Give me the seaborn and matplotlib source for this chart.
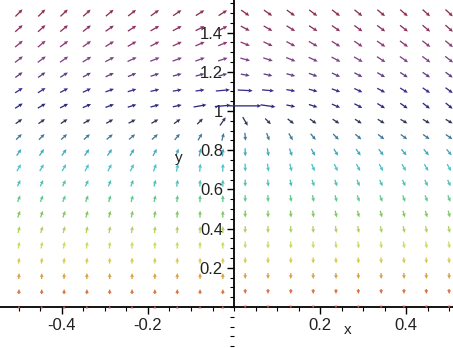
import numpy as np
import matplotlib
matplotlib.use("Agg")
import matplotlib.pyplot as plt
from matplotlib.ticker import MultipleLocator
import seaborn as sns

sns.set_theme(style="white")
plt.rcParams['font.family'] = ['Liberation Sans', 'DejaVu Sans']

# grid of the direction field (20 x 20)
x_grid = [-0.5, -0.447, -0.395, -0.342, -0.289, -0.237, -0.184, -0.132, -0.079, -0.026,
          0.026, 0.079, 0.132, 0.184, 0.237, 0.289, 0.342, 0.395, 0.447, 0.5]
y_grid = [0.0, 0.079, 0.158, 0.237, 0.316, 0.395, 0.474, 0.553, 0.632, 0.711,
          0.789, 0.868, 0.947, 1.026, 1.105, 1.184, 1.263, 1.342, 1.421, 1.5]

# arrow direction (degrees), one row per y value (bottom -> top)
arrow_angles = [
    [90, 90, 90, 90, 90, 90, 90, 90, 90, 90, -90, -90, -90, -90, -90, -90, -90, -90, -90, -90],
    [89, 89, 89, 90, 90, 90, 90, 90, 90, 90, -90, -90, -90, -90, -90, -90, -89, -89, -89, -89],
    [87, 87, 88, 88, 89, 89, 90, 90, 90, 90, -90, -90, -90, -89, -88, -88, -87, -87, -87, -87],
    [84, 84, 85, 86, 87, 88, 89, 90, 90, 90, -90, -90, -89, -88, -87, -86, -85, -84, -84, -84],
    [80, 80, 80, 82, 84, 86, 88, 89, 90, 90, -90, -90, -88, -86, -84, -82, -82, -81, -80, -80],
    [75, 75, 76, 78, 80, 82, 85, 88, 90, 90, -90, -89, -87, -85, -82, -80, -78, -78, -78, -78],
    [72, 72, 72, 74, 76, 78, 82, 86, 89, 90, -90, -88, -85, -82, -78, -76, -75, -75, -75, -75],
    [68, 68, 68, 70, 72, 75, 78, 83, 88, 90, -90, -87, -82, -78, -75, -72, -70, -70, -70, -70],
    [65, 65, 65, 65, 67, 70, 75, 80, 87, 89, -89, -85, -78, -72, -70, -68, -66, -65, -65, -65],
    [60, 60, 60, 62, 63, 65, 70, 78, 85, 88, -88, -82, -75, -68, -65, -63, -62, -60, -60, -60],
    [55, 55, 55, 55, 55, 58, 62, 70, 78, 85, -88, -80, -70, -62, -58, -55, -52, -50, -50, -50],
    [45, 45, 43, 42, 40, 40, 42, 50, 60, 75, -85, -70, -60, -50, -45, -40, -38, -37, -36, -35],
    [35, 35, 33, 30, 30, 28, 30, 35, 45, 55, -60, -45, -38, -35, -33, -32, -31, -30, -30, -30],
    [32, 30, 27, 23, 20, 17, 15, 12, 10, 5, 0, -8, -12, -18, -23, -28, -32, -35, -38, -40],
    [33, 32, 28, 25, 20, 17, 13, 10, 8, 5, -3, -5, -10, -15, -20, -25, -28, -32, -35, -37],
    [36, 35, 32, 28, 25, 22, 18, 15, 15, 15, -10, -12, -15, -20, -25, -28, -30, -33, -35, -37],
    [38, 37, 35, 32, 28, 25, 22, 20, 20, 18, -15, -18, -22, -25, -28, -30, -33, -35, -37, -38],
    [40, 40, 37, 35, 32, 30, 27, 25, 23, 22, -22, -25, -28, -30, -32, -34, -35, -37, -38, -40],
    [42, 42, 40, 38, 35, 33, 30, 28, 27, 27, -28, -30, -32, -33, -35, -36, -37, -38, -40, -42],
    [45, 45, 43, 42, 40, 38, 36, 34, 32, 32, -35, -35, -36, -37, -38, -39, -40, -41, -42, -43],
]

# arrow size per row (bottom -> top), plus the longer arrows around (0, 1)
row_size = [3, 5, 6, 6, 7, 7, 7, 7, 7, 8, 8, 8, 8, 9, 9, 9, 10, 10, 10, 10]
big_rows = [13, 13, 13, 13, 14, 14, 14, 12, 12]
big_cols = [10, 9, 11, 8, 9, 10, 11, 9, 10]
big_size = [32, 16, 15, 13, 14, 15, 12, 10, 10]

# colour of each row (bottom -> top)
row_colors = ['#d04a4a', '#d8703a', '#d8a040', '#d8c850', '#d0d860', '#b0d060', '#80c860',
              '#60c890', '#50c0b0', '#50c0c8', '#40a8c0', '#407898', '#303858', '#2a2a80',
              '#38308a', '#604080', '#804088', '#903878', '#8a3060', '#8a3048']

X, Y = np.meshgrid(x_grid, y_grid)
A = np.array(arrow_angles, dtype=float)
L = np.repeat(np.array(row_size, dtype=float)[:, None], len(x_grid), axis=1)
L[big_rows, big_cols] = big_size

fig = plt.figure(figsize=(4.53, 3.48), dpi=100)
ax = fig.add_axes([0, 0, 1, 1])

for i, col in enumerate(row_colors):
    ax.quiver(X[i], Y[i], L[i], np.zeros_like(L[i]), angles=A[i],
              scale_units='dots', scale=1, units='dots', width=1.3,
              headwidth=3, headlength=3.2, headaxislength=2.8,
              minlength=0.5, pivot='middle', color=col, zorder=3)

ax.set_xlim(-0.544, 0.509)
ax.set_ylim(-0.209, 1.566)

# axes through the origin, Maple style
ax.spines['left'].set_position('zero')
ax.spines['bottom'].set_position('zero')
ax.spines['top'].set_visible(False)
ax.spines['right'].set_visible(False)
for s in ['left', 'bottom']:
    ax.spines[s].set_color('black')
    ax.spines[s].set_linewidth(1.3)
ax.spines['left'].set_bounds(0, 1.566)

ax.set_xticks([-0.4, -0.2, 0.2, 0.4])
ax.set_xticklabels(['-0.4', '-0.2', '0.2', '0.4'])
ax.set_yticks([0.2, 0.4, 0.6, 0.8, 1.0, 1.2, 1.4])
ax.set_yticklabels(['0.2', '0.4', '0.6', '0.8', '1', '1.2', '1.4'])
ax.xaxis.set_minor_locator(MultipleLocator(0.05))
ax.yaxis.set_minor_locator(MultipleLocator(0.05))
ax.tick_params(which='major', direction='out', length=5, width=1, color='black',
               labelsize=12, labelcolor='#222222', pad=3)
ax.tick_params(which='minor', direction='out', length=3, width=0.8, color='black')
ax.tick_params(axis='x', which='both', bottom=True)
ax.tick_params(axis='y', which='both', left=True)
ax.grid(False)
ax.set_facecolor('white')

ax.text(0.265, -0.117, 'x', fontsize=11, color='#222222', ha='center', va='center')
ax.text(-0.128, 0.76, 'y', fontsize=11, color='#222222', ha='center', va='center')

fig.savefig('out.png', dpi=100, facecolor='white')
